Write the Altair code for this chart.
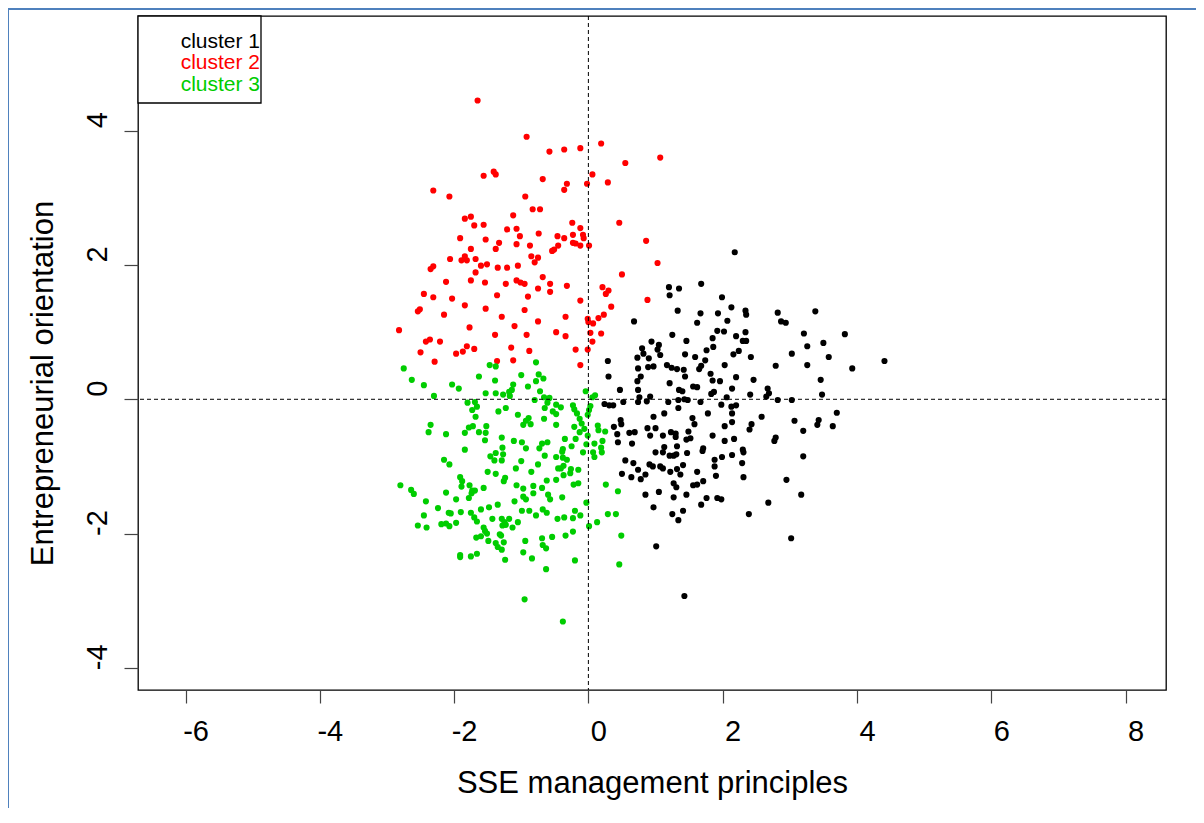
import altair as alt
import pandas as pd

# ---- data ----
cluster_names = ["cluster 1", "cluster 2", "cluster 3"]
cluster_colors = ["#000000", "#FF0000", "#00CD00"]

red_x = [-1.65,-0.92,-0.58,-1.56,-1.41,-1.38,-0.68,-2.31,-2.07,-0.94,-0.83,-0.72,-1.12,-1.84,-1.75,-1.70,-1.56,-1.21,-1.07,-1.02,-0.74,-0.46,-1.91,-1.53,-1.75,-1.33,-1.38,-1.07,-0.87,-0.54,-0.51,-0.45,-2.06,-1.84,-1.89,-1.81,-1.68,-0.85,-0.75,-0.80,-1.60,-1.51,-1.35,-1.21,-1.05,-2.31,-2.35,
         -0.36,-0.12,0.19,0.55,1.07,0.06,-0.32,-0.36,-0.02,0.29,-0.24,-0.12,0.46,-0.36,-0.23,-0.08,-0.07,-0.23,-0.19,-0.12,0.01,0.86,1.03,
         -1.68,-2.12,-1.75,-1.54,-1.23,-1.07,-1.01,-0.95,-0.68,-0.75,-0.57,-0.57,-2.45,-2.31,-2.03,-1.36,-0.90,-1.84,-1.53,-0.95,-2.54,-2.51,-2.15,-1.29,-0.75,-2.82,-1.77,-1.10,-0.48,-1.39,-0.92,-2.42,-2.36,-2.21,-1.81,-1.70,-1.87,-1.97,-2.50,-1.15,-0.88,-2.29,-1.36,-1.12,
         0.50,-0.32,0.21,0.30,0.26,0.88,-0.12,0.34,0.23,-0.34,-0.01,0.15,0.00,0.07,0.03,0.19,-0.34,0.06,-0.19,-0.01,-0.12]
red_y = [4.45,3.91,3.69,3.33,3.39,3.35,3.28,3.11,3.02,3.02,2.83,2.83,2.74,2.69,2.72,2.59,2.60,2.53,2.54,2.43,2.47,2.43,2.40,2.38,2.24,2.33,2.24,2.31,2.29,2.21,2.23,2.29,2.09,2.13,2.07,2.07,2.09,2.13,2.11,2.04,1.99,2.01,1.96,1.96,1.99,1.98,1.94,
         3.72,3.74,3.81,3.52,3.60,3.35,3.21,3.12,3.21,3.23,2.63,2.55,2.63,2.40,2.45,2.45,2.40,2.33,2.32,2.29,2.29,2.36,2.03,
         1.89,1.75,1.77,1.74,1.72,1.77,1.74,1.72,1.82,1.65,1.72,1.60,1.57,1.52,1.50,1.55,1.53,1.40,1.35,1.33,1.31,1.34,1.26,1.23,1.16,1.03,1.07,1.09,1.00,0.96,0.96,0.86,0.89,0.86,0.79,0.75,0.71,0.68,0.70,0.77,0.72,0.56,0.57,0.58,
         1.86,1.69,1.67,1.62,1.57,1.48,1.47,1.38,1.26,1.23,1.20,1.21,1.15,1.13,0.99,0.98,0.94,0.86,0.74,0.74,0.51]

green_x = [-0.78,-1.47,-1.38,-2.75,-2.63,-2.45,-2.30,-2.03,-1.93,-1.63,-1.39,-1.00,-0.74,-0.67,-0.78,-1.12,-0.90,-1.14,-1.18,-0.72,-1.53,-1.38,-1.27,-1.17,-0.66,-0.58,-0.80,-1.80,-1.69,-1.66,-1.73,-0.61,-0.48,-0.65,-1.23,-1.34,-0.53,-0.48,-1.68,-1.05,-0.66,-0.89,-0.93,-0.97,-0.86,-0.48,-2.35,-2.38,-2.12,-1.78,-1.72,-1.52,-1.84,-1.63,-1.53,-1.29,-1.54,-1.11,-0.99,-0.61,-0.69,-1.28,-0.93,-0.73,-1.84,
           -1.46,-1.38,-1.27,-1.40,-1.29,-0.65,-0.48,-1.00,-0.75,-2.15,-2.07,-1.08,-0.45,-1.50,-1.38,-0.85,-1.91,-1.88,-1.24,-1.26,-0.62,-0.48,-2.80,-1.89,-1.77,-1.73,-1.69,-1.56,-1.07,-0.97,-0.82,-0.69,-2.64,-2.60,-2.12,-1.74,-0.82,-0.60,-0.57,-0.97,-0.93,-2.42,-1.97,-1.78,-1.35,-1.10,-2.24,-1.60,-1.48,-0.99,-0.88,-0.68,-0.62,-0.78,-2.45,-2.08,-2.05,-1.90,-1.75,-1.70,-1.66,-1.43,-1.29,-1.25,-1.18,-1.23,-1.28,-1.13,-1.05,-0.46,-2.54,-2.41,-2.19,-2.12,-2.07,-1.97,-1.56,-1.54,-1.51,-1.32,-1.30,-1.67,-1.60,-1.49,-1.38,-1.26,-1.35,-1.29,-0.94,-0.69,-0.54,-0.68,-0.63,-1.91,-1.91,-1.75,-1.66,-0.97,-1.24,-0.84,-0.63,-0.95,
           -0.39,-0.08,0.07,0.20,0.09,-0.38,-0.32,-0.37,-0.41,-0.26,-0.15,-0.27,-0.37,-0.22,-0.15,0.26,0.44,-0.39,-0.03,-0.20,-0.12,-0.36,-0.23,0.29,0.41,0.13,0.01,-0.23,-0.34,0.49,-0.20,0.46,-0.38,
           -0.04,0.06,0.10,-0.41,-0.23,-0.21,0.03,0.01,-0.17,-0.13,-0.01,-0.10,-0.21,-0.06,0.14,0.15,0.25,-0.13,-0.01,-0.35,-0.19,0.21,-0.03,0.09,-0.25,0.19,-0.38]
green_y = [0.55,0.51,0.49,0.46,0.29,0.21,0.05,0.22,0.16,0.34,0.28,0.36,0.37,0.31,0.27,0.22,0.19,0.14,0.11,0.12,0.09,0.09,0.07,0.05,0.03,0.02,-0.01,-0.05,-0.04,-0.11,-0.16,-0.05,-0.08,-0.13,-0.13,-0.18,-0.18,-0.22,-0.26,-0.23,-0.29,-0.28,-0.32,-0.38,-0.37,-0.38,-0.38,-0.49,-0.52,-0.42,-0.40,-0.40,-0.50,-0.49,-0.50,-0.57,-0.61,-0.62,-0.64,-0.64,-0.66,-0.72,-0.73,-0.73,-0.75,
           -0.85,-0.80,-0.82,-0.91,-0.91,-0.84,-0.86,-0.92,-0.97,-0.90,-0.97,-1.03,-1.03,-1.08,-1.11,-1.08,-1.16,-1.22,-1.17,-1.22,-1.21,-1.20,-1.28,-1.30,-1.28,-1.36,-1.36,-1.32,-1.28,-1.33,-1.29,-1.32,-1.35,-1.41,-1.39,-1.40,-1.40,-1.42,-1.49,-1.45,-1.49,-1.52,-1.49,-1.47,-1.57,-1.52,-1.62,-1.64,-1.61,-1.66,-1.66,-1.64,-1.69,-1.73,-1.73,-1.69,-1.70,-1.68,-1.69,-1.76,-1.82,-1.78,-1.78,-1.83,-1.78,-1.87,-1.88,-1.91,-1.83,-1.78,-1.88,-1.91,-1.86,-1.85,-1.89,-1.84,-1.91,-1.96,-2.00,-2.01,-2.03,-2.06,-2.04,-2.11,-2.14,-2.13,-2.20,-2.24,-2.11,-2.07,-2.05,-2.17,-2.22,-2.32,-2.35,-2.34,-2.30,-2.28,-2.39,-2.37,-2.53,-2.98,
           -0.78,-0.79,-0.79,-0.79,-0.86,-0.87,-0.90,-0.99,-1.03,-1.04,-1.05,-1.10,-1.13,-1.27,-1.25,-1.27,-1.37,-1.46,-1.54,-1.66,-1.73,-1.76,-1.77,-1.71,-1.71,-1.83,-1.89,-1.97,-2.03,-2.03,-2.40,-2.46,-3.31,
           0.12,0.03,0.06,-0.12,-0.09,-0.15,-0.10,-0.16,-0.21,-0.29,-0.23,-0.36,-0.41,-0.44,-0.39,-0.46,-0.48,-0.49,-0.54,-0.59,-0.59,-0.62,-0.67,-0.66,-0.70,-0.72,-0.74]

black_x = [1.20,1.35,1.68,1.21,1.99,1.33,1.67,1.93,0.68,1.62,2.07,1.92,2.02,1.25,1.46,1.85,0.94,1.05,1.86,0.80,1.03,1.76,0.82,1.07,1.44,1.59,0.73,0.90,0.29,1.74,2.03,0.74,0.89,0.97,1.17,1.24,1.32,1.42,1.65,1.68,1.82,0.30,0.78,1.44,0.73,1.21,1.85,1.96,1.56,1.62,0.47,0.74,1.35,1.40,1.83,1.87,0.76,0.92,1.43,2.06,0.24,0.31,0.37,0.52,0.74,0.87,1.19,1.34,1.48,1.67,1.98,1.34,1.13,1.78,0.48,0.49,0.97,1.55,1.58,0.38,0.88,1.00,2.03,0.43,0.61,0.69,0.92,1.11,1.23,1.30,1.30,1.49,1.46,1.52,1.85,0.44,0.65,2.03,1.13,1.32,1.71,
           1.00,1.11,1.21,1.27,1.31,1.47,1.70,0.55,0.67,0.91,0.96,1.07,1.11,1.41,1.32,1.88,1.99,1.88,0.74,0.50,0.64,0.78,0.85,1.22,1.37,1.62,1.90,1.27,1.31,1.56,1.62,1.71,0.85,1.05,1.27,1.46,1.76,1.92,1.98,1.68,0.97,1.41,1.25,1.34,1.01,1.43,
           2.13,2.34,2.35,2.82,3.38,2.87,2.94,2.20,2.34,2.30,2.35,3.21,3.82,3.50,3.26,2.16,2.24,3.03,3.58,2.42,4.41,2.79,3.26,3.93,2.20,2.46,3.46,2.14,2.67,2.41,2.65,2.69,3.48,2.82,3.03,2.20,2.13,2.14,2.58,3.70,2.14,2.43,2.40,3.07,3.43,3.41,3.64,3.20,2.17,2.79,2.77,2.30,
           2.14,2.31,3.20,2.29,2.31,2.95,3.17,2.68,2.39,3.02,2.18]
black_y = [1.67,1.65,1.72,1.55,1.52,1.32,1.28,1.28,1.16,1.14,1.17,1.02,1.01,0.96,0.87,0.91,0.86,0.81,0.78,0.76,0.74,0.73,0.68,0.66,0.67,0.63,0.62,0.61,0.57,0.58,0.51,0.46,0.48,0.49,0.51,0.47,0.45,0.44,0.45,0.50,0.38,0.34,0.34,0.34,0.27,0.24,0.28,0.27,0.19,0.18,0.14,0.14,0.14,0.12,0.08,0.11,0.03,0.04,0.00,0.03,-0.07,-0.09,-0.09,-0.04,-0.04,-0.03,-0.04,-0.01,-0.01,-0.04,-0.08,-0.13,-0.21,-0.21,-0.31,-0.37,-0.26,-0.28,-0.37,-0.41,-0.43,-0.43,-0.40,-0.52,-0.50,-0.49,-0.54,-0.54,-0.49,-0.51,-0.56,-0.48,-0.60,-0.58,-0.54,-0.64,-0.66,-0.62,-0.71,-0.70,-0.73,
           -0.79,-0.79,-0.84,-0.84,-0.82,-0.80,-0.77,-0.91,-0.95,-0.97,-1.00,-1.00,-1.03,-0.98,-1.04,-0.90,-0.86,-1.00,-1.05,-1.11,-1.16,-1.19,-1.12,-1.08,-1.12,-1.08,-1.14,-1.25,-1.31,-1.28,-1.27,-1.22,-1.42,-1.38,-1.46,-1.42,-1.47,-1.47,-1.49,-1.57,-1.61,-1.66,-1.71,-1.80,-2.19,-2.93,
           1.37,1.32,1.26,1.29,1.31,1.16,1.14,0.94,1.00,0.87,0.87,0.98,0.97,0.84,0.79,0.67,0.72,0.68,0.63,0.63,0.57,0.50,0.51,0.46,0.33,0.29,0.29,0.16,0.16,0.07,0.04,0.09,0.07,-0.01,-0.01,-0.09,-0.11,-0.21,-0.26,-0.20,-0.34,-0.37,-0.45,-0.32,-0.31,-0.38,-0.40,-0.47,-0.59,-0.57,-0.62,-0.75,
           -0.83,-0.79,-0.85,-0.95,-1.16,-1.20,-1.42,-1.54,-1.71,-2.07,2.19]

x_ticks = [-6, -4, -2, 0, 2, 4, 6, 8]
y_ticks = [-4, -2, 0, 2, 4]
x_title = "SSE management principles"
y_title = "Entrepreneurial orientation"

# ---- tables ----
frames = []
for name, xs, ys in [(cluster_names[0], black_x, black_y),
                     (cluster_names[1], red_x, red_y),
                     (cluster_names[2], green_x, green_y)]:
    frames.append(pd.DataFrame({"x": xs, "y": ys, "cluster": name}))
pts = pd.concat(frames, ignore_index=True)

FONT = "Liberation Sans"
xscale = alt.Scale(domain=[-6.708, 8.603], nice=False, zero=False)
yscale = alt.Scale(domain=[-4.33, 5.709], nice=False, zero=False)
LBL = "'' + datum.value"

xaxis = alt.Axis(values=x_ticks, grid=False, domain=False, tickSize=13, tickColor="#444444",
                 tickWidth=1.2, labelFont=FONT, labelFontSize=29, labelColor="black", labelExpr=LBL,
                 labelBaseline="alphabetic", labelPadding=37, labelOffset=10, labelFlush=False,
                 title=x_title, titleFont=FONT, titleFontSize=31, titleFontWeight="normal",
                 titleColor="black", titleX=514, titleY=93, titleBaseline="middle", titleAlign="center")
yaxis = alt.Axis(values=y_ticks, grid=False, domain=False, tickSize=14, tickColor="#444444",
                 tickWidth=1.2, labelFont=FONT, labelFontSize=29, labelColor="black", labelExpr=LBL,
                 labelAngle=270, labelAlign="center", labelBaseline="alphabetic", labelPadding=18,
                 labelOffset=-11, labelFlush=False,
                 title=y_title, titleFont=FONT, titleFontSize=31, titleFontWeight="normal",
                 titleColor="black", titleAngle=270, titleX=-95, titleY=367,
                 titleBaseline="middle", titleAlign="center")

points = alt.Chart(pts).mark_circle(size=38, opacity=1).encode(
    x=alt.X("x:Q", scale=xscale, axis=xaxis),
    y=alt.Y("y:Q", scale=yscale, axis=yaxis),
    color=alt.Color("cluster:N", scale=alt.Scale(domain=cluster_names, range=cluster_colors), legend=None),
)

vline = alt.Chart(pd.DataFrame({"x": [0]})).mark_rule(color="black", strokeDash=[4, 3], strokeWidth=1).encode(
    x=alt.X("x:Q", scale=xscale))
hline = alt.Chart(pd.DataFrame({"y": [0]})).mark_rule(color="black", strokeDash=[4, 3], strokeWidth=1).encode(
    y=alt.Y("y:Q", scale=yscale))

legend_box = alt.Chart(pd.DataFrame({"a": [0]})).mark_rect(fill="white", stroke="black", strokeWidth=1.3).encode(
    x=alt.value(0), x2=alt.value(123), y=alt.value(0), y2=alt.value(87))

legend_rows = [25.7, 47.3, 69.0]
legend_texts = []
for name, col, yy in zip(cluster_names, cluster_colors, legend_rows):
    legend_texts.append(
        alt.Chart(pd.DataFrame({"t": [name]})).mark_text(
            align="right", baseline="middle", font=FONT, fontSize=21, color=col
        ).encode(x=alt.value(122), y=alt.value(yy), text="t:N")
    )

frame_v = alt.Chart(pd.DataFrame({"a": [0]})).mark_rule(color="#4F81BD", strokeWidth=2).encode(
    x=alt.value(-130), y=alt.value(-7), y2=alt.value(820))
frame_h = alt.Chart(pd.DataFrame({"a": [0]})).mark_rule(color="#4F81BD", strokeWidth=2).encode(
    x=alt.value(-130), x2=alt.value(1070), y=alt.value(-7))

chart = alt.layer(frame_v, frame_h, points, vline, hline, legend_box, *legend_texts).properties(
    width=1028, height=674,
    autosize=alt.AutoSizeParams(type="none"),
    padding={"left": 130, "top": 8, "right": 30, "bottom": 118},
    background="white",
).configure_view(stroke="black", strokeWidth=1.3)

chart.save("out.html", embed_options={"renderer": "svg", "actions": False})
